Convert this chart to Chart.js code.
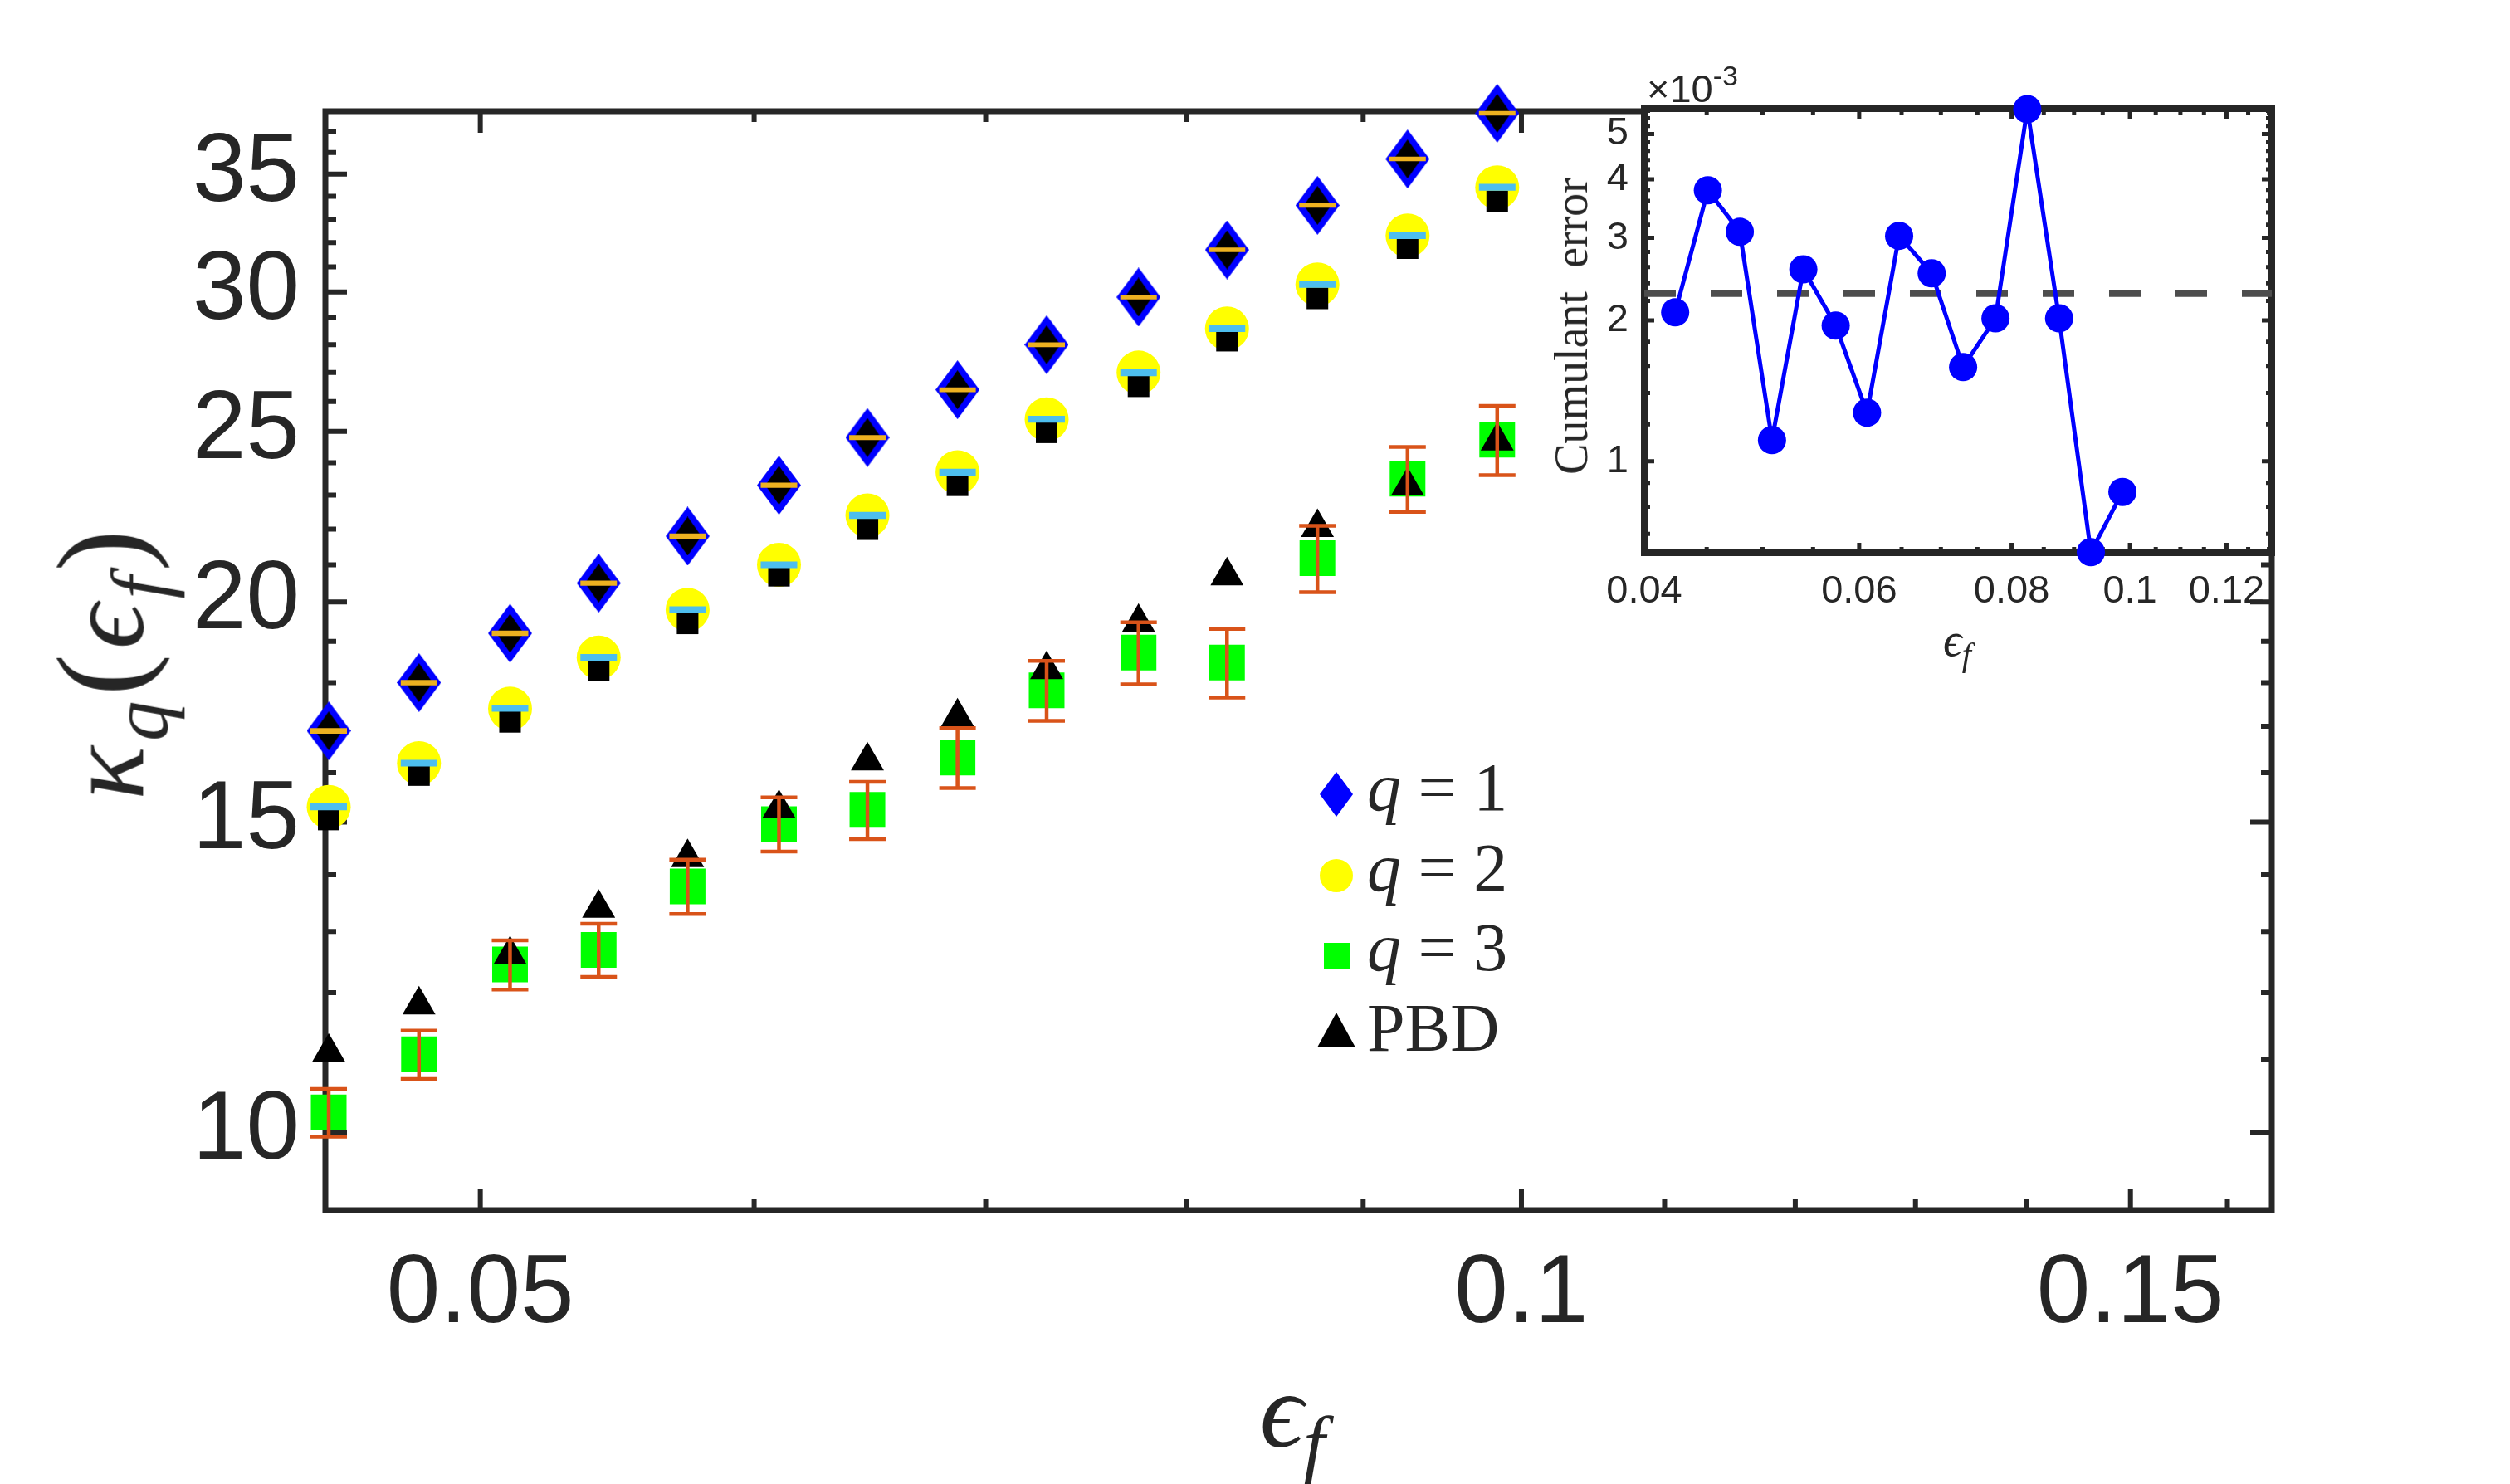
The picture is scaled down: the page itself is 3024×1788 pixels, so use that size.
<!DOCTYPE html>
<html>
<head>
<meta charset="utf-8">
<script src="https://cdn.jsdelivr.net/npm/chart.js@4.4.1/dist/chart.umd.min.js"></script>
<style>
  html, body { margin: 0; padding: 0; background: #fff; }
  #wrap { position: relative; width: 3024px; height: 1788px; overflow: hidden; background: #fff; }
  canvas { position: absolute; }
  #main { left: 0; top: 0; width: 3024px; height: 1788px; }
  #inset { left: 1800px; top: 40px; width: 1000px; height: 820px; }
  .lbl { position: absolute; color: #262626; line-height: 1; white-space: nowrap;
         font-family: "Liberation Serif", "DejaVu Serif", serif; }
  .lbl i { font-style: italic; }
  .sb { font-size: 0.72em; position: relative; top: 0.3em; }
  .p { font-size: 1.12em; }
  #ylab { left: 122px; top: 798px; font-size: 135px; letter-spacing: 6px;
          transform: translate(-50%, -50%) rotate(-90deg); }
  #xlab { left: 1557px; top: 1634px; font-size: 130px; transform: translateX(-50%); }
  #iylab { left: 1893px; top: 393px; font-size: 56px; word-spacing: 14px;
           transform: translate(-50%, -50%) rotate(-90deg); }
  #ixlab { left: 2358px; top: 743px; font-size: 56px; transform: translateX(-50%); }
  #scale { left: 1984px; top: 83px; font-size: 47px; font-family: "Liberation Sans", Arial, sans-serif; }
  #scale span { font-size: 34px; position: relative; top: -20px; }
  .leg { left: 1647px; font-size: 82px; }
</style>
</head>
<body>
<div id="wrap">
  <canvas id="main" width="3024" height="1788"></canvas>
  <canvas id="inset" width="1000" height="820"></canvas>

  <div class="lbl" id="ylab"><i>κ</i><i class="sb">q</i><span class="p">(</span><i>ϵ</i><i class="sb">f</i><span class="p">)</span></div>
  <div class="lbl" id="xlab"><i>ϵ</i><i class="sb">f</i></div>
  <div class="lbl" id="iylab">Cumulant error</div>
  <div class="lbl" id="ixlab"><i>ϵ</i><i class="sb">f</i></div>
  <div class="lbl" id="scale">×10<span>-3</span></div>

  <div class="lbl leg" style="top:908px"><i>q</i> = 1</div>
  <div class="lbl leg" style="top:1005px"><i>q</i> = 2</div>
  <div class="lbl leg" style="top:1101px"><i>q</i> = 3</div>
  <div class="lbl leg" style="top:1198px">PBD</div>
</div>

<script>
// strain values (x) of the main plot and of the inset
const epsMain  = [0.0452, 0.0480, 0.0510, 0.0541, 0.0574, 0.0610, 0.0647, 0.0687, 0.0729, 0.0775, 0.0822, 0.0873, 0.0927, 0.0984];
const epsInset = [0.0424, 0.0451, 0.0479, 0.0509, 0.0540, 0.0574, 0.0609, 0.0647, 0.0688, 0.0730, 0.0776, 0.0824, 0.0875, 0.0929, 0.0986];

// kappa_q(eps_f)
const kappaQ1 = [16.9, 18.0, 19.2, 20.5, 21.8, 23.3, 24.8, 26.4, 28.0, 29.8, 31.7, 33.6, 35.7, 37.9];
const errQ1   = [0.02, 0.02, 0.02, 0.02, 0.02, 0.02, 0.02, 0.02, 0.02, 0.02, 0.02, 0.02, 0.02, 0.02];
const kappaQ2 = [15.3, 16.2, 17.4, 18.6, 19.8, 21.0, 22.4, 23.7, 25.4, 27.0, 28.6, 30.3, 32.3, 34.4];
const errQ2   = [0.03, 0.03, 0.03, 0.04, 0.04, 0.04, 0.05, 0.05, 0.05, 0.06, 0.06, 0.06, 0.07, 0.07];
const kappaQ3 = [10.26, 11.07, 12.45, 12.69, 13.79, 14.96, 15.24, 16.32, 17.82, 18.72, 18.48, 21.18, 23.5, 24.73];
const errQ3   = [0.32, 0.35, 0.40, 0.44, 0.49, 0.53, 0.57, 0.64, 0.70, 0.76, 0.83, 0.92, 1.0, 1.12];

// PBD reference values
const pbdQ1 = [16.9, 18.0, 19.2, 20.5, 21.8, 23.3, 24.8, 26.4, 28.0, 29.8, 31.7, 33.6, 35.7, 37.9];
const pbdQ2 = [15.05, 15.95, 17.1, 18.3, 19.45, 20.7, 22.0, 23.3, 24.97, 26.52, 28.15, 29.75, 31.77, 33.77];
const pbdQ3 = [11.10, 11.81, 12.61, 13.40, 14.32, 15.27, 16.25, 17.21, 18.31, 19.48, 20.70, 22.05, 23.28, 24.69];

// inset: cumulant error (x 1e-3) and its mean
const cumErr = [2.08, 3.79, 3.09, 1.11, 2.57, 1.95, 1.27, 3.03, 2.52, 1.59, 2.02, 5.65, 2.02, 0.64, 0.86];
const cumErrMean = 2.28;

// ticks
const xTicksMain = [0.05, 0.1, 0.15];
const xMinorMain = [0.06, 0.07, 0.08, 0.09, 0.11, 0.12, 0.13, 0.14, 0.16];
const yTicksMain = [10, 15, 20, 25, 30, 35];
const yMinorMain = [11, 12, 13, 14, 16, 17, 18, 19, 21, 22, 23, 24, 26, 27, 28, 29, 31, 32, 33, 34, 36, 37];
const xTicksInset = [0.04, 0.06, 0.08, 0.1, 0.12];
const xMinorInset = [0.045, 0.05, 0.055, 0.065, 0.07, 0.075, 0.085, 0.09, 0.095, 0.105, 0.11, 0.115, 0.125, 0.13];
const yTicksInset = [1, 2, 3, 4, 5];
const yMinorInset = [0.7, 0.8, 0.9, 1.2, 1.4, 1.6, 1.8, 2.2, 2.4, 2.6, 2.8, 3.2, 3.4, 3.6, 3.8, 4.2, 4.4, 4.6, 4.8, 5.2, 5.4, 5.6];

const AXIS = '#262626';

const pts = (xs, ys) => xs.map((x, i) => ({ x: x, y: ys[i] }));

function diamondImg(w, h, color) {
  const c = document.createElement('canvas');
  c.width = w; c.height = h;
  const g = c.getContext('2d');
  g.fillStyle = color;
  g.beginPath();
  g.moveTo(w / 2, 0); g.lineTo(w, h / 2); g.lineTo(w / 2, h); g.lineTo(0, h / 2);
  g.closePath(); g.fill();
  return c;
}

// box with inward ticks on all four sides (MATLAB style)
function framePlugin(cfg) {
  return {
    id: 'frame',
    beforeDraw(chart) {
      if (!cfg.fill) return;
      const a = chart.chartArea, ctx = chart.ctx;
      ctx.save();
      ctx.fillStyle = '#fff';
      ctx.fillRect(a.left, a.top, a.right - a.left, a.bottom - a.top);
      ctx.restore();
    },
    beforeDatasetsDraw(chart) {
      const { ctx, chartArea: a, scales: { x, y } } = chart;
      ctx.save();
      ctx.strokeStyle = AXIS;
      ctx.lineWidth = cfg.tickW;
      ctx.beginPath();
      const tx = (vals, len) => vals.forEach(v => {
        const p = x.getPixelForValue(v);
        if (p < a.left - 1 || p > a.right + 1) return;
        ctx.moveTo(p, a.bottom); ctx.lineTo(p, a.bottom - len);
        ctx.moveTo(p, a.top); ctx.lineTo(p, a.top + len);
      });
      const ty = (vals, len) => vals.forEach(v => {
        const p = y.getPixelForValue(v);
        if (p < a.top - 1 || p > a.bottom + 1) return;
        ctx.moveTo(a.left, p); ctx.lineTo(a.left + len, p);
        ctx.moveTo(a.right, p); ctx.lineTo(a.right - len, p);
      });
      tx(cfg.xMajor, cfg.majorLen); tx(cfg.xMinor, cfg.minorLen);
      ty(cfg.yMajor, cfg.majorLen); ty(cfg.yMinor, cfg.minorLen);
      ctx.stroke();
      ctx.lineWidth = cfg.axisW;
      ctx.strokeRect(a.left, a.top, a.right - a.left, a.bottom - a.top);
      if (cfg.extra) cfg.extra(chart);
      ctx.restore();
    }
  };
}

// error bars drawn through the chart scales
const errorBars = [
  { ys: kappaQ3, errs: errQ3, color: '#D95319', width: 4.5 },
  { ys: kappaQ1, errs: errQ1, color: '#EDB120', width: 4.5 },
  { ys: kappaQ2, errs: errQ2, color: '#4DBEEE', width: 4.5 }
];
const errorBarPlugin = {
  id: 'errbars',
  afterDatasetsDraw(chart) {
    const { ctx, scales: { x, y } } = chart;
    const cap = 22;
    errorBars.forEach(s => {
      ctx.save();
      ctx.strokeStyle = s.color;
      ctx.lineWidth = s.width;
      ctx.beginPath();
      epsMain.forEach((xv, i) => {
        const px = x.getPixelForValue(xv);
        const top = y.getPixelForValue(s.ys[i] + s.errs[i]);
        const bot = y.getPixelForValue(s.ys[i] - s.errs[i]);
        ctx.moveTo(px, top); ctx.lineTo(px, bot);
        ctx.moveTo(px - cap, top); ctx.lineTo(px + cap, top);
        ctx.moveTo(px - cap, bot); ctx.lineTo(px + cap, bot);
      });
      ctx.stroke();
      ctx.restore();
    });
  }
};

// legend symbols
const LEG = { x: 1610, rows: [957, 1055, 1152, 1242] };
const legendPlugin = {
  id: 'legendMarks',
  afterDraw(chart) {
    const ctx = chart.ctx, cx = LEG.x, r = LEG.rows;
    ctx.save();
    ctx.fillStyle = '#0000ff';
    ctx.beginPath();
    ctx.moveTo(cx, r[0] - 27); ctx.lineTo(cx + 20, r[0]); ctx.lineTo(cx, r[0] + 27); ctx.lineTo(cx - 20, r[0]);
    ctx.closePath(); ctx.fill();
    ctx.fillStyle = '#ffff00';
    ctx.beginPath(); ctx.arc(cx, r[1], 20, 0, Math.PI * 2); ctx.fill();
    ctx.fillStyle = '#00ff00';
    ctx.fillRect(cx - 15, r[2] - 16, 31, 32);
    ctx.fillStyle = '#000';
    ctx.beginPath();
    ctx.moveTo(cx, r[3] - 22); ctx.lineTo(cx + 23, r[3] + 20); ctx.lineTo(cx - 23, r[3] + 20);
    ctx.closePath(); ctx.fill();
    ctx.restore();
  }
};

const tickFont = size => ({ family: 'Liberation Sans, Arial, sans-serif', size: size });

function logAxis(min, max, ticks, size, padding, fit) {
  return {
    type: 'logarithmic',
    min: min, max: max, bounds: 'data',
    grid: { display: false, drawTicks: false },
    border: { display: false },
    afterBuildTicks: s => { s.ticks = ticks.map(v => ({ value: v })); },
    afterFit: fit,
    ticks: { autoSkip: false, maxRotation: 0, minRotation: 0, padding: padding, color: AXIS,
             font: tickFont(size), callback: v => String(v) }
  };
}

// main chart
new Chart(document.getElementById('main'), {
  type: 'scatter',
  data: {
    datasets: [
      { label: 'q = 1', data: pts(epsMain, kappaQ1), pointStyle: diamondImg(53, 71, '#0000ff'),
        pointRadius: 26, clip: false, order: 5 },
      { label: 'q = 2', data: pts(epsMain, kappaQ2), pointStyle: 'circle', pointRadius: 26.5,
        backgroundColor: '#ffff00', borderWidth: 0, clip: false, order: 5 },
      { label: 'q = 3', data: pts(epsMain, kappaQ3), pointStyle: 'rect', pointRadius: 30.4,
        backgroundColor: '#00ff00', borderWidth: 0, clip: false, order: 5 },
      { label: 'PBD q = 1', data: pts(epsMain, pbdQ1), pointStyle: diamondImg(33, 47, '#000000'),
        pointRadius: 16, clip: false, order: 1 },
      { label: 'PBD q = 2', data: pts(epsMain, pbdQ2), pointStyle: 'rect', pointRadius: 18.4,
        backgroundColor: '#000', borderWidth: 0, clip: false, order: 1 },
      { label: 'PBD', data: pts(epsMain, pbdQ3), pointStyle: 'triangle', pointRadius: 23,
        backgroundColor: '#000', borderWidth: 0, clip: false, order: 1 }
    ]
  },
  options: {
    responsive: false, animation: false, devicePixelRatio: 1, events: [],
    layout: { padding: { left: 0, top: 134, right: 287, bottom: 0 } },
    plugins: { legend: { display: false }, tooltip: { enabled: false } },
    scales: {
      x: logAxis(0.0451, 0.1648, xTicksMain, 116, 33, s => { s.height = 330; }),
      y: logAxis(9.03, 38.0, yTicksMain, 116, 31, s => { s.width = 392; })
    }
  },
  plugins: [
    framePlugin({ xMajor: xTicksMain, xMinor: xMinorMain, yMajor: yTicksMain, yMinor: yMinorMain,
                  majorLen: 26, minorLen: 13, tickW: 6, axisW: 7 }),
    errorBarPlugin, legendPlugin
  ]
});

// inset chart
new Chart(document.getElementById('inset'), {
  type: 'scatter',
  data: {
    datasets: [
      { label: 'Cumulant error', data: pts(epsInset, cumErr), showLine: true,
        borderColor: '#0000ff', backgroundColor: '#0000ff', borderWidth: 5,
        pointRadius: 17, pointBorderWidth: 0, clip: false }
    ]
  },
  options: {
    responsive: false, animation: false, devicePixelRatio: 1, events: [],
    layout: { padding: { left: 0, top: 91, right: 63, bottom: 0 } },
    plugins: { legend: { display: false }, tooltip: { enabled: false } },
    scales: {
      x: logAxis(0.04, 0.1307, xTicksInset, 47, 19, s => { s.height = 194; }),
      y: logAxis(0.638, 5.66, yTicksInset, 47, 19, s => { s.width = 181; })
    }
  },
  plugins: [
    framePlugin({ xMajor: xTicksInset, xMinor: xMinorInset, yMajor: yTicksInset, yMinor: yMinorInset,
                  majorLen: 12, minorLen: 7, tickW: 5, axisW: 8, fill: true,
                  extra: chart => {
                    const { ctx, chartArea: a, scales: { y } } = chart;
                    const py = y.getPixelForValue(cumErrMean);
                    ctx.setLineDash([38, 42]);
                    ctx.lineWidth = 8;
                    ctx.strokeStyle = '#4d4d4d';
                    ctx.beginPath(); ctx.moveTo(a.left, py); ctx.lineTo(a.right, py); ctx.stroke();
                    ctx.setLineDash([]);
                  } })
  ]
});
</script>
</body>
</html>
